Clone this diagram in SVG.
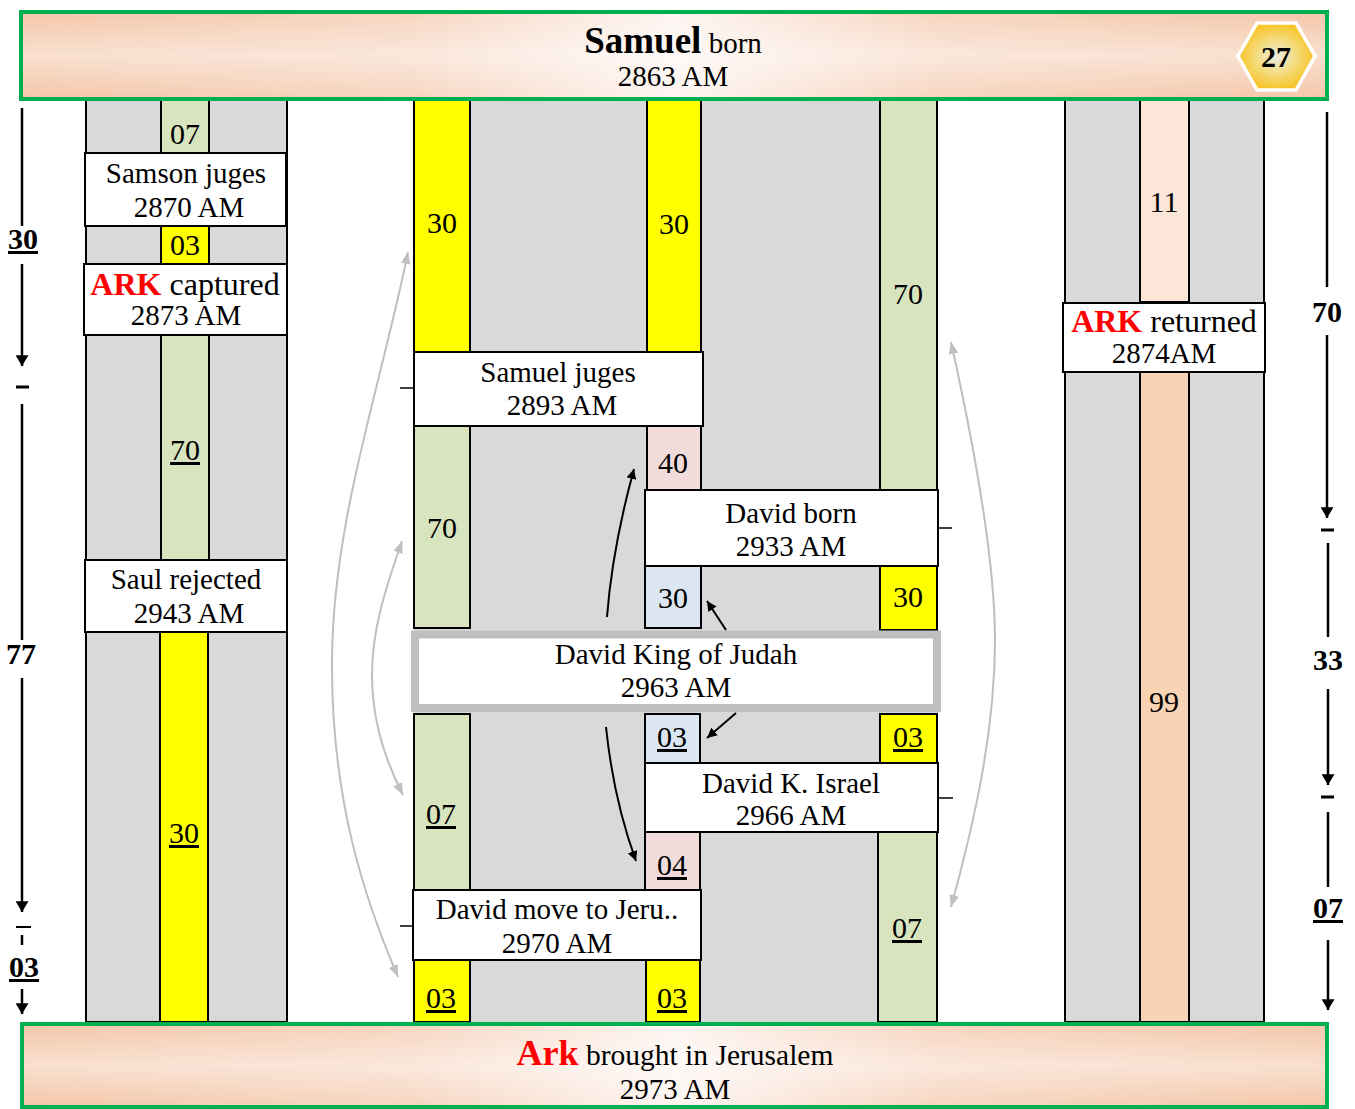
<svg xmlns="http://www.w3.org/2000/svg" width="1355" height="1109" viewBox="0 0 1355 1109">
<defs>
<linearGradient id="bh" x1="0" y1="0" x2="1" y2="0">
<stop offset="0" stop-color="#F4C6A8"/><stop offset="0.3" stop-color="#F7D5C0"/><stop offset="0.5" stop-color="#FDF5F1"/><stop offset="0.7" stop-color="#F7D5C0"/><stop offset="1" stop-color="#F4C6A8"/>
</linearGradient>
<linearGradient id="bv" x1="0" y1="0" x2="0" y2="1">
<stop offset="0" stop-color="#FFFFFF" stop-opacity="0"/><stop offset="0.5" stop-color="#FFFFFF" stop-opacity="0.45"/><stop offset="1" stop-color="#FFFFFF" stop-opacity="0"/>
</linearGradient>
<radialGradient id="hexg" cx="0.5" cy="0.5" r="0.5">
<stop offset="0" stop-color="#ECEAE6"/><stop offset="0.45" stop-color="#F3DE8A"/><stop offset="1" stop-color="#F8C528"/>
</radialGradient>
<marker id="ab" viewBox="0 0 10 10" refX="10" refY="5" markerWidth="10" markerHeight="10" markerUnits="userSpaceOnUse" orient="auto-start-reverse"><path d="M0,0 L10,5 L0,10 Z" fill="#000"/></marker>
<marker id="ag" viewBox="0 0 10 10" refX="10" refY="5" markerWidth="12" markerHeight="12" markerUnits="userSpaceOnUse" orient="auto-start-reverse"><path d="M0,1 L10,5 L0,9 Z" fill="#BFBFBF"/></marker>
<marker id="at" viewBox="0 0 12 10" refX="6" refY="10" markerWidth="13" markerHeight="11" markerUnits="userSpaceOnUse" orient="0"><path d="M0,0 L12,0 L6,10 Z" fill="#000"/></marker>
</defs>
<style>
text{font-family:"Liberation Serif","Times New Roman",serif;fill:#000;text-anchor:middle}
.b{font-size:29px}
.n{font-size:30px}
.u{text-decoration:underline}
.bd{font-weight:bold}
.red{fill:#FF0000;font-weight:bold}
.gray{fill:#D9D9D9;stroke:#000;stroke-width:2}
.box{fill:#FFFFFF;stroke:#000;stroke-width:2}
.gr{fill:#D7E4BD;stroke:#000;stroke-width:2}
.ye{fill:#FFFF00;stroke:#000;stroke-width:2}
.pk{fill:#F2DCDB;stroke:#000;stroke-width:2}
.bl{fill:#DCE6F2;stroke:#000;stroke-width:2}
.lp{fill:#FBE6D8;stroke:#000;stroke-width:2}
.pe{fill:#F9D4B4;stroke:#000;stroke-width:2}
.tl{stroke:#000;stroke-width:2.5;fill:none}
.gc{stroke:#BFBFBF;stroke-width:2;fill:none;marker-start:url(#ag);marker-end:url(#ag)}
.bc{stroke:#000;stroke-width:2;fill:none;marker-end:url(#ab)}
.tk{stroke:#000;stroke-width:1.5}
</style>

<!-- left column -->
<g id="left-column">
<rect class="gray" x="86" y="100" width="201" height="922"/>
<rect class="gr" x="161" y="100" width="48" height="53"/>
<text class="n" x="185" y="144">07</text>
<rect class="ye" x="161" y="226" width="48" height="38"/>
<text class="n" x="185" y="255">03</text>
<rect class="gr" x="161" y="335" width="48" height="225"/>
<text class="n u" x="185" y="460">70</text>
<rect class="ye" x="160" y="632" width="48" height="390"/>
<text class="n u" x="184" y="843">30</text>
</g>
<g id="samson"><rect class="box" x="85" y="153" width="201" height="73"/><text class="b" x="186" y="183">Samson juges</text><text class="b" x="189" y="217">2870 AM</text></g>
<g id="ark-captured"><rect class="box" x="84" y="264" width="203" height="71"/><text class="b" x="185" y="295" style="font-size:32px"><tspan class="red">ARK</tspan> captured</text><text class="b" x="186" y="325">2873 AM</text></g>
<g id="saul"><rect class="box" x="85" y="560" width="202" height="72"/><text class="b" x="186" y="589">Saul rejected</text><text class="b" x="189" y="623">2943 AM</text></g>

<!-- middle block -->
<g id="middle-column">
<rect x="414" y="100" width="524" height="922" fill="#D9D9D9"/>
<rect class="ye" x="414" y="100" width="56" height="252"/>
<text class="n" x="442" y="233">30</text>
<rect class="ye" x="647" y="100" width="54" height="252"/>
<text class="n" x="674" y="234">30</text>
<rect class="gr" x="880" y="100" width="57" height="390"/>
<text class="n" x="908" y="304">70</text>
<rect class="gr" x="414" y="426" width="56" height="202"/>
<text class="n" x="442" y="538">70</text>
<rect class="pk" x="647" y="426" width="54" height="64"/>
<text class="n" x="673" y="473">40</text>
<rect class="bl" x="645" y="566" width="56" height="62"/>
<text class="n" x="673" y="608">30</text>
<rect class="ye" x="880" y="566" width="57" height="64"/>
<text class="n" x="908" y="607">30</text>
<rect class="gr" x="414" y="714" width="56" height="176"/>
<text class="n u" x="441" y="824">07</text>
<rect class="bl" x="645" y="714" width="55" height="49"/>
<text class="n u" x="672" y="747">03</text>
<rect class="ye" x="880" y="714" width="57" height="49"/>
<text class="n u" x="908" y="747">03</text>
<rect class="pk" x="645" y="832" width="55" height="58"/>
<text class="n u" x="672" y="875">04</text>
<rect class="gr" x="878" y="832" width="59" height="190"/>
<text class="n u" x="907" y="938">07</text>
<rect class="ye" x="414" y="960" width="56" height="62"/>
<text class="n u" x="441" y="1008">03</text>
<rect class="ye" x="646" y="960" width="54" height="62"/>
<text class="n u" x="672" y="1008">03</text>
</g>
<g id="samuel-juges"><rect class="box" x="414" y="352" width="289" height="74"/><text class="b" x="558" y="382">Samuel juges</text><text class="b" x="562" y="415">2893 AM</text></g>
<g id="david-born"><rect class="box" x="645" y="490" width="293" height="76"/><text class="b" x="791" y="523">David born</text><text class="b" x="791" y="556">2933 AM</text></g>
<g id="david-judah"><rect x="415" y="634.5" width="522" height="73.5" fill="#FFFFFF" stroke="#BFBFBF" stroke-width="8"/><text class="b" x="676" y="664">David King of Judah</text><text class="b" x="676" y="697">2963 AM</text></g>
<g id="david-israel"><rect class="box" x="645" y="763" width="293" height="69"/><text class="b" x="791" y="793">David K. Israel</text><text class="b" x="791" y="825">2966 AM</text></g>
<g id="david-move"><rect class="box" x="413" y="890" width="288" height="70"/><text class="b" x="557" y="919">David move to Jeru..</text><text class="b" x="557" y="953">2970 AM</text></g>

<!-- right column -->
<g id="right-column">
<rect class="gray" x="1065" y="100" width="199" height="922"/>
<rect class="lp" x="1140" y="100" width="49" height="202"/>
<text class="n" x="1164" y="212">11</text>
<rect class="pe" x="1140" y="372" width="49" height="650"/>
<text class="n" x="1164" y="712">99</text>
</g>
<g id="ark-returned"><rect class="box" x="1063" y="303" width="202" height="69"/><text class="b" x="1164" y="332" style="font-size:32px"><tspan class="red">ARK</tspan> returned</text><text class="b" x="1164" y="363">2874AM</text></g>

<!-- banners -->
<g id="top-banner">
<rect x="21" y="12" width="1306" height="87" fill="url(#bh)"/>
<rect x="21" y="12" width="1306" height="87" fill="url(#bv)" stroke="#00B050" stroke-width="4"/>
<text x="673" y="53"><tspan class="bd" style="font-size:37px">Samuel</tspan><tspan style="font-size:29px"> born</tspan></text>
<text x="673" y="86" style="font-size:29px">2863 AM</text>
<polygon points="1238,56 1257,23 1296,23 1315,56 1296,90 1257,90" fill="url(#hexg)" stroke="#FFFFFF" stroke-width="3.5"/>
<text class="bd" x="1276" y="67" style="font-size:30px">27</text>
</g>
<g id="bottom-banner">
<rect x="22" y="1024" width="1305" height="83" fill="url(#bh)"/>
<rect x="22" y="1024" width="1305" height="83" fill="url(#bv)" stroke="#00B050" stroke-width="4"/>
<text x="675" y="1065"><tspan class="red" style="font-size:36px">Ark</tspan><tspan style="font-size:29.5px"> brought in Jerusalem</tspan></text>
<text x="675" y="1099" style="font-size:29px">2973 AM</text>
</g>

<!-- timelines -->
<g id="left-timeline">
<line class="tl" x1="22" y1="108" x2="22" y2="226"/>
<text class="n bd u" x="23" y="249">30</text>
<line class="tl" x1="22" y1="264" x2="22" y2="366" marker-end="url(#at)"/>
<line x1="16" y1="387" x2="29" y2="387" stroke="#000" stroke-width="3"/>
<line class="tl" x1="22" y1="404" x2="22" y2="640"/>
<text class="n bd" x="21" y="664">77</text>
<line class="tl" x1="22" y1="678" x2="22" y2="912" marker-end="url(#at)"/>
<line x1="16" y1="927" x2="31" y2="927" stroke="#000" stroke-width="2"/>
<line x1="22" y1="935" x2="22" y2="945" stroke="#000" stroke-width="2.5"/>
<text class="n bd u" x="24" y="977">03</text>
<line class="tl" x1="22" y1="989" x2="22" y2="1014" marker-end="url(#at)"/>
</g>
<g id="right-timeline">
<line class="tl" x1="1327" y1="112" x2="1327" y2="287"/>
<text class="n bd" x="1327" y="322">70</text>
<line class="tl" x1="1327" y1="335" x2="1327" y2="518" marker-end="url(#at)"/>
<line x1="1321" y1="530" x2="1334" y2="530" stroke="#000" stroke-width="3"/>
<line class="tl" x1="1328" y1="543" x2="1328" y2="637"/>
<text class="n bd" x="1328" y="670">33</text>
<line class="tl" x1="1328" y1="689" x2="1328" y2="785" marker-end="url(#at)"/>
<line x1="1321" y1="797" x2="1334" y2="797" stroke="#000" stroke-width="3"/>
<line class="tl" x1="1328" y1="812" x2="1328" y2="887"/>
<text class="n bd u" x="1328" y="918">07</text>
<line class="tl" x1="1328" y1="940" x2="1328" y2="1010" marker-end="url(#at)"/>
</g>

<!-- connectors -->
<g id="connectors">
<line class="tk" x1="400" y1="388" x2="414" y2="388"/>
<line class="tk" x1="938" y1="528" x2="952" y2="528"/>
<line class="tk" x1="938" y1="798" x2="953" y2="798"/>
<line class="tk" x1="400" y1="926" x2="413" y2="926"/>
<path class="gc" d="M408,252 C380,390 333,520 332,660 C331,800 365,900 398,977"/>
<path class="gc" d="M402,541 C385,590 372,630 372,675 C372,720 385,760 403,795"/>
<path class="gc" d="M951,342 C975,450 995,560 995,640 C995,730 975,820 951,907"/>
<path class="bc" d="M607,617 C611,565 620,520 634,469"/>
<path class="bc" d="M726,630 L707,601"/>
<path class="bc" d="M736,713 L707,738"/>
<path class="bc" d="M606,727 C611,775 621,820 636,861"/>
</g>
</svg>
